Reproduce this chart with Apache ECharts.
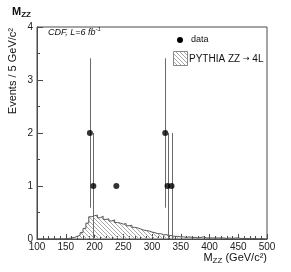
<!DOCTYPE html>
<html>
<head>
<meta charset="utf-8">
<script src="https://cdn.jsdelivr.net/npm/echarts@6/dist/echarts.min.js"></script>
<style>
html,body{margin:0;padding:0;background:#fff;}
#c{width:291px;height:272px;}
</style>
</head>
<body>
<div id="c"></div>
<script>
// ---- data ----
const binStart = 100;
const binWidth = 5;
// PYTHIA ZZ -> 4L expected events per 5 GeV bin, bins from 100 to 500 GeV/c^2
const pythiaValues = [
  0,0,0,0,0,0,0,0,0,0.005,          // 100-145
  0.01,0.02,0.03,0.05,0.07,0.12,0.2,0.3,0.42,0.44, // 150-195
  0.45,0.40,0.43,0.37,0.38,0.34,0.36,0.31,0.30,0.28, // 200-245
  0.29,0.25,0.26,0.22,0.21,0.19,0.17,0.16,0.15,0.13, // 250-295
  0.12,0.10,0.10,0.08,0.08,0.07,0.06,0.05,0.05,0.04, // 300-345
  0.04,0.03,0.04,0.03,0.03,0.02,0.03,0.04,0.02,0.02, // 350-395
  0.02,0.02,0.02,0.02,0.02,0.01,0.02,0.01,0.02,0.02, // 400-445
  0.01,0.01,0.01,0.01,0.01,0.01,0.0,0.01,0.0,0.0     // 450-495
];
// observed data candidates
const dataMass = [192, 198, 238, 323, 327, 334];
const dataEvents = [2, 1, 1, 2, 1, 1];
const dataErrLow = [0.59, 0, null, 0.59, 0, 0];
const dataErrHigh = [3.41, 2, null, 3.41, 2, 2];
const xTicks = [100,150,200,250,300,350,400,450,500];
const yTicks = [0,1,2,3,4];

// ---- build ----
const histData = pythiaValues.map((v, i) => [binStart + i * binWidth, v]);
histData.push([binStart + pythiaValues.length * binWidth, pythiaValues[pythiaValues.length - 1]]);
const pointData = dataMass.map((m, i) => [m, dataEvents[i]]);
const errData = [];
dataMass.forEach((m, i) => { if (dataErrLow[i] !== null) errData.push([m, dataErrLow[i], dataErrHigh[i]]); });

// hatch pattern
const pc = document.createElement('canvas');
pc.width = 4; pc.height = 4;
const pctx = pc.getContext('2d');
pctx.fillStyle = '#a8a8a8';
for (let i = 0; i < 4; i++) pctx.fillRect(i, i, 1, 1);
const hatch = { image: pc, repeat: 'repeat' };

const FONT = 'Liberation Sans, Arial, Helvetica, sans-serif';
const AX = '#4a4a4a';

const chart = echarts.init(document.getElementById('c'), null, { renderer: 'canvas' });
chart.setOption({
  animation: false,
  backgroundColor: '#fff',
  grid: { left: 37, right: 24, top: 27, bottom: 33, show: true, borderColor: AX, borderWidth: 1, backgroundColor: 'transparent' },
  xAxis: {
    type: 'value', min: xTicks[0], max: xTicks[xTicks.length - 1], interval: 50,
    axisLine: { show: true, onZero: false, lineStyle: { color: AX, width: 1 } },
    axisTick: { show: true, inside: true, length: 5, lineStyle: { color: AX } },
    minorTick: { show: true, splitNumber: 5, length: 3, lineStyle: { color: AX } },
    splitLine: { show: false },
    axisLabel: { fontFamily: FONT, fontSize: 10, color: '#222', margin: 3 }
  },
  yAxis: {
    type: 'value', min: yTicks[0], max: yTicks[yTicks.length - 1], interval: 1,
    axisLine: { show: true, lineStyle: { color: AX, width: 1 } },
    axisTick: { show: true, inside: true, length: 6, lineStyle: { color: AX } },
    minorTick: { show: true, splitNumber: 2, length: 3, lineStyle: { color: AX } },
    splitLine: { show: false },
    axisLabel: { fontFamily: FONT, fontSize: 10, color: '#222', margin: 4 }
  },
  series: [
    {
      type: 'line', data: histData, step: 'end', symbol: 'none',
      lineStyle: { color: '#555', width: 1 },
      areaStyle: { color: hatch, opacity: 1 },
      z: 2
    },
    {
      type: 'custom', data: errData, z: 3,
      renderItem: function (params, api) {
        const x = api.value(0);
        const p1 = api.coord([x, api.value(1)]);
        const p2 = api.coord([x, api.value(2)]);
        return { type: 'line', shape: { x1: Math.round(p1[0]) + 0.5, y1: p1[1], x2: Math.round(p2[0]) + 0.5, y2: p2[1] },
                 style: { stroke: '#6a6a6a', lineWidth: 1 } };
      }
    },
    {
      type: 'scatter', data: pointData, symbol: 'circle', symbolSize: 6,
      itemStyle: { color: '#000' }, z: 4
    }
  ],
  graphic: [
    { type: 'text', left: 12, top: 6, style: { text: '{m|M}{s|ZZ}', rich: {
        m: { fontFamily: FONT, fontSize: 11, fontWeight: 'bold', fill: '#111', lineHeight: 14 },
        s: { fontFamily: FONT, fontSize: 8, fontWeight: 'bold', fill: '#111', lineHeight: 8, verticalAlign: 'bottom' } } } },
    { type: 'text', x: 48, y: 26, style: { text: '{m|CDF, L=6 fb}{s|-1}', rich: {
        m: { fontFamily: FONT, fontStyle: 'italic', fontSize: 9, fill: '#111', lineHeight: 13 },
        s: { fontFamily: FONT, fontStyle: 'italic', fontSize: 6, fill: '#111', lineHeight: 6, verticalAlign: 'top' } } } },
    { type: 'circle', shape: { cx: 180, cy: 40, r: 3 }, style: { fill: '#000' } },
    { type: 'text', x: 191, y: 40, style: { text: 'data', fontFamily: FONT, fontSize: 9, fill: '#111', textVerticalAlign: 'middle' } },
    { type: 'rect', shape: { x: 173.5, y: 51.5, width: 14, height: 14 }, style: { fill: hatch, stroke: '#888', lineWidth: 1 } },
    { type: 'text', x: 189, y: 52, style: { text: '{m|PYTHIA ZZ }{a|→}{m| 4L}', rich: {
        m: { fontFamily: FONT, fontSize: 10, fill: '#111', lineHeight: 14 },
        a: { fontFamily: 'DejaVu Sans', fontSize: 8, fill: '#111', lineHeight: 14 } } } },
    { type: 'text', x: 13, y: 28, rotation: Math.PI / 2, style: { text: 'Events / 5 GeV/c²', fontFamily: FONT, fontSize: 11, fill: '#111', textAlign: 'right', textVerticalAlign: 'middle' } },
    { type: 'text', right: 24, top: 252, style: { text: '{m|M}{s|ZZ}{m| (GeV/c²)}', rich: {
        m: { fontFamily: FONT, fontSize: 11, fill: '#111', lineHeight: 14 },
        s: { fontFamily: FONT, fontSize: 8, fill: '#111', lineHeight: 8, verticalAlign: 'bottom' } } } }
  ]
});
</script>
</body>
</html>
